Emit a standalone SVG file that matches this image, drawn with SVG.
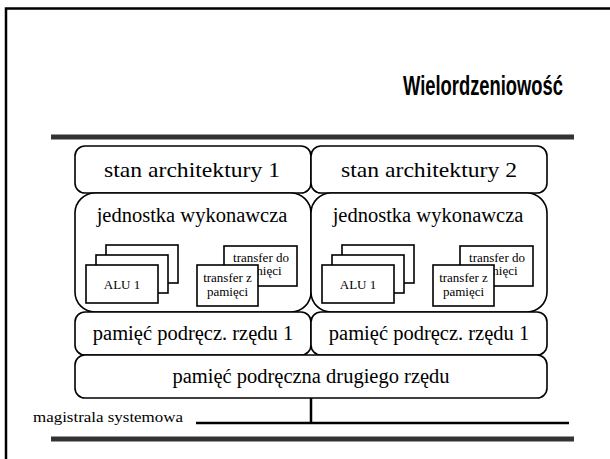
<svg xmlns="http://www.w3.org/2000/svg" width="610" height="459" viewBox="0 0 610 459">
<style>
.box{fill:#fff;stroke:#000;stroke-width:1.6}
.t{font-family:"Liberation Serif","Times New Roman",serif;fill:#000}
.big{font-size:22px}
.mid{font-size:20.5px}
.sm{font-size:13px}
.bar{stroke:#333;stroke-width:5}
.line{stroke:#000;stroke-width:2.5}
</style>
<rect x="0" y="0" width="610" height="459" fill="#fff"/>
<path d="M6,460 V8.5 H612" fill="none" stroke="#000" stroke-width="2.5"/>
<text x="403" y="95" font-family="Liberation Sans,Arial,sans-serif" font-weight="bold" font-size="27" textLength="160" lengthAdjust="spacingAndGlyphs">Wielordzeniowość</text>
<line class="bar" x1="51" y1="137" x2="574" y2="137"/>
<line class="bar" x1="51" y1="439" x2="574" y2="439"/>

<g id="arch1"><rect class="box" x="75" y="146" width="236" height="47" rx="10"/><text class="t big" x="104" y="177" textLength="176" lengthAdjust="spacingAndGlyphs">stan architektury 1</text></g>
<g id="arch2"><rect class="box" x="311" y="146" width="236" height="47" rx="10"/><text class="t big" x="341" y="177" textLength="176" lengthAdjust="spacingAndGlyphs">stan architektury 2</text></g>

<g id="exec1">
<rect class="box" x="75" y="193" width="236" height="119" rx="20"/>
<text class="t mid" x="192" y="222" text-anchor="middle">jednostka wykonawcza</text>
<rect class="box" x="106" y="245" width="72" height="38"/>
<rect class="box" x="96" y="255" width="72" height="38"/>
<rect class="box" x="86" y="265" width="72" height="38"/>
<text class="t sm" x="122" y="289" text-anchor="middle">ALU 1</text>
<rect class="box" x="224" y="246" width="73" height="40"/>
<text class="t sm" x="261" y="262" text-anchor="middle">transfer do</text>
<text class="t sm" x="261" y="275" text-anchor="middle">pamięci</text>
<rect class="box" x="197" y="265" width="61" height="41"/>
<text class="t sm" x="227.5" y="282" text-anchor="middle">transfer z</text>
<text class="t sm" x="227.5" y="296" text-anchor="middle">pamięci</text>
</g>
<g id="exec2">
<rect class="box" x="311" y="193" width="236" height="119" rx="20"/>
<text class="t mid" x="428" y="222" text-anchor="middle">jednostka wykonawcza</text>
<rect class="box" x="342" y="245" width="72" height="38"/>
<rect class="box" x="332" y="255" width="72" height="38"/>
<rect class="box" x="322" y="265" width="72" height="38"/>
<text class="t sm" x="358" y="289" text-anchor="middle">ALU 1</text>
<rect class="box" x="460" y="246" width="73" height="40"/>
<text class="t sm" x="497" y="262" text-anchor="middle">transfer do</text>
<text class="t sm" x="497" y="275" text-anchor="middle">pamięci</text>
<rect class="box" x="433" y="265" width="61" height="41"/>
<text class="t sm" x="463.5" y="282" text-anchor="middle">transfer z</text>
<text class="t sm" x="463.5" y="296" text-anchor="middle">pamięci</text>
</g>

<g id="l1a"><rect class="box" x="75" y="312" width="236" height="43" rx="10"/><text class="t mid" x="193" y="340" text-anchor="middle">pamięć podręcz. rzędu 1</text></g>
<g id="l1b"><rect class="box" x="311" y="312" width="236" height="43" rx="10"/><text class="t mid" x="429" y="340" text-anchor="middle">pamięć podręcz. rzędu 1</text></g>
<g id="l2"><rect class="box" x="75" y="355" width="472" height="43" rx="10"/><text class="t mid" x="311" y="383" text-anchor="middle">pamięć podręczna drugiego rzędu</text></g>

<g id="connectors">
<line class="line" x1="311" y1="398" x2="311" y2="423"/>
<line class="line" x1="196" y1="423" x2="569" y2="423"/>
</g>
<text class="t" font-size="15" x="33" y="422" textLength="150" lengthAdjust="spacingAndGlyphs">magistrala systemowa</text>
</svg>
